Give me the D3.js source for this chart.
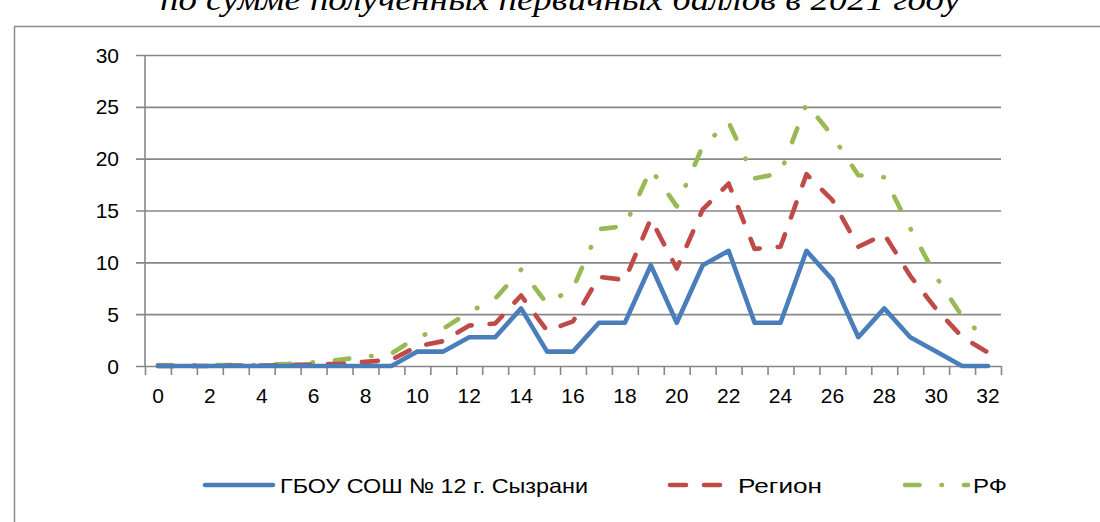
<!DOCTYPE html>
<html><head><meta charset="utf-8">
<script src="https://cdn.jsdelivr.net/npm/d3@7"></script>
<style>
html,body{margin:0;padding:0;background:#fff;}
svg{display:block;}
</style></head>
<body>
<svg id="chart" width="1100" height="522"></svg>
<script>
const categories = d3.range(0, 33);
const xTickLabels = d3.range(0, 33, 2);
const yTicks = [0, 5, 10, 15, 20, 25, 30];
const seriesNames = ["ГБОУ СОШ № 12 г. Сызрани", "Регион", "РФ"];
const school = [0,0,0,0,0,0,0,0,0,0,1.39,1.39,2.78,2.78,5.56,1.39,1.39,4.17,4.17,9.72,4.17,9.72,11.11,4.17,4.17,11.11,8.33,2.78,5.56,2.78,1.39,0,0];
const region = [0,0,0,0.05,0.05,0.1,0.15,0.2,0.4,0.6,1.9,2.4,3.9,4.1,6.8,3.4,4.3,8.6,8.3,14.2,9.4,15.1,17.6,11.3,11.5,18.5,16.0,11.5,12.7,8.7,5.5,2.8,1.3];
const russia = [0.1,0.05,0.1,0.1,0.1,0.2,0.35,0.6,0.9,1.2,2.8,3.6,5.2,6.5,9.3,6.0,7.5,13.2,13.5,19.0,15.4,21.2,23.5,18.1,18.6,25.3,22.2,18.4,18.2,13.3,8.6,4.8,2.4];
const titleText = "по сумме полученных первичных баллов в 2021 году";

(function () {
const svg = d3.select("#chart");
const font = "'Liberation Sans', Arial, sans-serif";
const gridColor = "#878787";

// frame
svg.append("path").attr("d", "M14.5,522 L14.5,26.5 L1100,26.5")
  .attr("fill", "none").attr("stroke", "#8c8c8c").attr("stroke-width", 1.5);

// title (cut off at top)
svg.append("text").attr("x", 560).attr("y", 10).attr("text-anchor", "middle")
  .attr("font-family", "'Liberation Serif', 'Times New Roman', serif")
  .attr("font-style", "italic").attr("font-size", 31)
  .attr("textLength", 800).attr("lengthAdjust", "spacingAndGlyphs")
  .text(titleText);

const pl = 145, pr = 1001, pt = 55, pb = 366;
const x = d3.scaleBand().domain(categories).range([pl, pr]).paddingInner(0).paddingOuter(0);
const xb = d3.scaleLinear().domain([0, categories.length]).range([pl, pr]);
const y = d3.scaleLinear().domain([0, 30]).range([pb, pt]);
const cx = d => x(d) + x.bandwidth() / 2;

// horizontal gridlines with left ticks
const gy = svg.append("g").attr("transform", `translate(${pr},0)`)
  .call(d3.axisLeft(y).tickValues(yTicks).tickSize(pr - pl + 9).tickFormat(""));
gy.select(".domain").remove();
gy.selectAll(".tick line").attr("stroke", gridColor).attr("stroke-width", 1.6);

// y labels
svg.append("g").selectAll("text").data(yTicks).join("text")
  .attr("x", 119).attr("y", d => y(d)).attr("dy", "0.36em")
  .attr("text-anchor", "end").attr("font-family", font).attr("font-size", 21)
  .attr("fill", "#000").text(d => d);

// y axis line
svg.append("line").attr("x1", pl).attr("x2", pl).attr("y1", pt).attr("y2", pb)
  .attr("stroke", gridColor).attr("stroke-width", 1.6);

// x axis ticks at boundaries
const gx = svg.append("g").attr("transform", `translate(0,${pb})`)
  .call(d3.axisBottom(xb).tickValues(d3.range(0, categories.length + 1)).tickSize(9).tickFormat(""));
gx.select(".domain").remove();
gx.selectAll(".tick line").attr("stroke", gridColor).attr("stroke-width", 1.6);

// x labels
const gxl = svg.append("g").attr("transform", `translate(0,${pb})`)
  .call(d3.axisBottom(x).tickValues(xTickLabels).tickSize(0).tickPadding(22));
gxl.select(".domain").remove();
gxl.selectAll("text").attr("font-family", font).attr("font-size", 21).attr("fill", "#000");

const line = d3.line().x((d, i) => cx(categories[i])).y(d => y(d));

const styles = [
  {data: school, color: "#4a7ebb", dash: null},
  {data: region, color: "#be4b48", dash: "16,18"},
  {data: russia, color: "#98b954", dash: "14.5,22,0.5,22"}
];

styles.slice().reverse().forEach(s => {
  svg.append("path").datum(s.data).attr("d", line)
    .attr("fill", "none").attr("stroke", s.color).attr("stroke-width", 4.6)
    .attr("stroke-linejoin", "round").attr("stroke-linecap", "round")
    .attr("stroke-dasharray", s.dash);
});

// legend
const ly = 485;
const legend = [
  {x1: 205, x2: 273, tx: 280, tw: 308, color: styles[0].color, dash: null},
  {x1: 670, x2: 728, tx: 738, tw: 84, color: styles[1].color, dash: "16,18"},
  {x1: 905, x2: 968, tx: 973, tw: 34, color: styles[2].color, dash: "14.5,22,0.5,22"}
];
legend.forEach((l, i) => {
  svg.append("line").attr("x1", l.x1).attr("x2", l.x2).attr("y1", ly).attr("y2", ly)
    .attr("stroke", l.color).attr("stroke-width", 4.6).attr("stroke-linecap", "round")
    .attr("stroke-dasharray", l.dash);
  svg.append("text").attr("x", l.tx).attr("y", ly).attr("dy", "0.36em")
    .attr("font-family", font).attr("font-size", 21).attr("fill", "#000")
    .attr("textLength", l.tw).attr("lengthAdjust", "spacingAndGlyphs")
    .text(seriesNames[i]);
});
})();
</script>
</body></html>
